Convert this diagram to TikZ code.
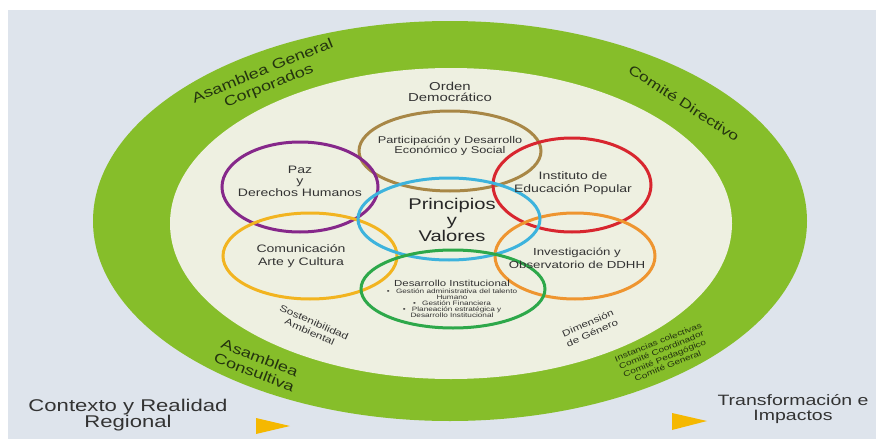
\documentclass[tikz,border=0pt]{standalone}
\usepackage{fontspec}
\setmainfont[FakeStretch=1.3]{Liberation Sans}
\definecolor{bgblue}{HTML}{DEE4EC}
\definecolor{ringgreen}{HTML}{86BE2A}
\definecolor{cream}{HTML}{EEF0E1}
\definecolor{txt}{HTML}{333333}
\definecolor{bandtxt}{HTML}{24340F}
\definecolor{cbrown}{HTML}{A88746}
\definecolor{cpurple}{HTML}{86288A}
\definecolor{cred}{HTML}{D8262F}
\definecolor{ccyan}{HTML}{3DB3DD}
\definecolor{cyellow}{HTML}{F2B420}
\definecolor{corange}{HTML}{EE9530}
\definecolor{cgreen}{HTML}{2DA84A}
\definecolor{tri}{HTML}{F5B800}
\tikzset{
  ring/.style={line width=3pt},
  lbl/.style={text=txt, align=center, inner sep=0pt, font=\fontsize{10.8}{13}\selectfont},
  band/.style={text=bandtxt, align=center, inner sep=0pt, font=\fontsize{14}{16}\selectfont},
  small/.style={text=txt, align=center, inner sep=0pt, font=\fontsize{9.2}{10.5}\selectfont},
}
\begin{document}
\begin{tikzpicture}[x=1pt,y=-1pt]
\useasboundingbox (0,0) rectangle (876,439);
\fill[white] (0,0) rectangle (876,439);
\fill[bgblue] (8,10) rectangle (876,439);
% outer green ring and cream disc
\fill[ringgreen] (450,221) ellipse [x radius=357pt, y radius=200pt];
\fill[cream] (451,223.5) ellipse [x radius=281pt, y radius=155.5pt];
% coloured rings
\draw[ring, cbrown] (450,151) ellipse [x radius=91pt, y radius=40pt];
\draw[ring, cpurple] (300,187) ellipse [x radius=78pt, y radius=45pt];
\draw[ring, cred] (572,185) ellipse [x radius=79pt, y radius=47pt];
\draw[ring, cyellow] (310,256) ellipse [x radius=87pt, y radius=43pt];
\draw[ring, corange] (575,256) ellipse [x radius=80pt, y radius=43pt];
\draw[ring, ccyan] (449,219) ellipse [x radius=91pt, y radius=41pt];
\draw[ring, cgreen] (453,289) ellipse [x radius=92pt, y radius=39pt];
% texts
\node[lbl, font=\fontsize{11.5}{11.5}\selectfont] (orden) at (450,92) {Orden\\Democrático};
\node[lbl, font=\fontsize{9.8}{10}\selectfont] (partic) at (450,145.5) {Participación y Desarrollo\\Económico y Social};
\node[lbl, font=\fontsize{10.8}{11.5}\selectfont] (paz) at (300,181) {Paz\\y\\Derechos Humanos};
\node[lbl] (inst) at (573,183.5) {Instituto de\\Educación Popular};
\node[lbl, font=\fontsize{15.5}{16}\selectfont, text=black!85] (princ) at (452,220) {Principios\\y\\Valores};
\node[lbl] (comun) at (301,256.5) {Comunicación\\Arte y Cultura};
\node[lbl, font=\fontsize{10.2}{13}\selectfont] (invest) at (577,258) {Investigación y\\Observatorio de DDHH};
\node[lbl, font=\fontsize{8.8}{9}\selectfont] (desinst) at (452,283) {Desarrollo Institucional};
\node[lbl, font=\fontsize{6.3}{6}\selectfont, anchor=north] (bullets) at (452,288.5) {•\quad Gestión administrativa del talento\\Humano\\•\quad Gestión Financiera\\•\quad Planeación estratégica y\\Desarrollo Institucional};
% band texts
\node[band, rotate=22] (asgen) at (266,79) {Asamblea General\\Corporados};
\node[band, font=\fontsize{13.5}{15}\selectfont, rotate=-33] (comdir) at (684,103) {Comité Directivo};
\node[band, font=\fontsize{14}{15.5}\selectfont, rotate=-21] (ascons) at (257,365) {Asamblea\\Consultiva};
\node[small, rotate=-24] (sost) at (312,327) {Sostenibilidad\\Ambiental};
\node[small, font=\fontsize{9}{10.5}\selectfont, rotate=24] (genero) at (590,328) {Dimensión\\de Género};
\node[band, font=\fontsize{7.8}{8.6}\selectfont, rotate=22] (instancias) at (663,354) {Instancias colectivas\\Comité Coordinador\\Comité Pedagógico\\Comité General};
% bottom texts and triangles
\node[lbl, font=\fontsize{17}{16}\selectfont] (contexto) at (128,415) {Contexto y Realidad\\Regional};
\node[lbl, font=\fontsize{15}{14.5}\selectfont] (transf) at (793,409) {Transformación e\\Impactos};
\fill[tri] (256,418) -- (290,426) -- (256,434) -- cycle;
\fill[tri] (672,413) -- (707,421) -- (672,430) -- cycle;
\end{tikzpicture}
\end{document}
